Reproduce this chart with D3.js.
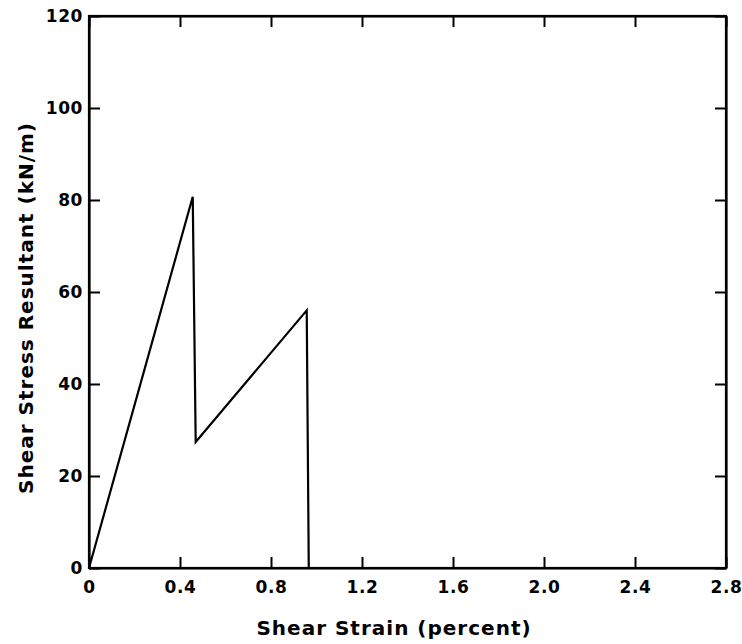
<!DOCTYPE html>
<html>
<head>
<meta charset="utf-8">
<script src="https://cdn.jsdelivr.net/npm/d3@7"></script>
<style>
  body { margin: 0; background: #fff; }
  text { font-family: "DejaVu Sans", sans-serif; font-weight: bold; fill: #000; }
</style>
</head>
<body>
<div id="chart"></div>
<script>
// data
var strain = [0, 0.456, 0.469, 0.957, 0.966];
var stress = [0, 80.7, 27.4, 56.0, 0];

var xTicks = [0, 0.4, 0.8, 1.2, 1.6, 2.0, 2.4, 2.8];
var yTicks = [0, 20, 40, 60, 80, 100, 120];

var svgWidth = 742;
var svgHeight = 644;

var margin = { top: 16, right: 16, bottom: 76, left: 89 };

var width = svgWidth - margin.left - margin.right;
var height = svgHeight - margin.top - margin.bottom;

var svg = d3.select("#chart")
  .append("svg")
  .attr("width", svgWidth)
  .attr("height", svgHeight);

var chartGroup = svg.append("g")
  .attr("transform", `translate(${margin.left}, ${margin.top})`);

var x = d3.scaleLinear().domain([0, 2.8]).range([0, width]);
var y = d3.scaleLinear().domain([0, 120]).range([height, 0]);

var tickLen = 11;

// axes, ticks pointing inward on all four sides
var bottomAxis = d3.axisBottom(x).tickValues(xTicks).tickSize(-tickLen).tickSizeOuter(0)
  .tickPadding(13)
  .tickFormat(d => d === 0 ? "0" : d3.format(".1f")(d));
var leftAxis = d3.axisLeft(y).tickValues(yTicks).tickSize(-tickLen).tickSizeOuter(0)
  .tickPadding(6).tickFormat(d3.format("d"));
var topAxis = d3.axisTop(x).tickValues(xTicks).tickSize(-tickLen).tickSizeOuter(0).tickFormat("");
var rightAxis = d3.axisRight(y).tickValues(yTicks).tickSize(-tickLen).tickSizeOuter(0).tickFormat("");

var gb = chartGroup.append("g").attr("transform", `translate(0,${height})`).call(bottomAxis);
var gl = chartGroup.append("g").call(leftAxis);
var gt = chartGroup.append("g").call(topAxis);
var gr = chartGroup.append("g").attr("transform", `translate(${width},0)`).call(rightAxis);

[gb, gl, gt, gr].forEach(g => {
  g.selectAll("path").attr("stroke", "#000").attr("stroke-width", 2.2);
  g.selectAll("line").attr("stroke", "#000").attr("stroke-width", 2);
  g.selectAll("text")
    .style("font-family", "'DejaVu Sans', sans-serif")
    .style("font-weight", "bold")
    .style("font-size", "17px")
    .style("letter-spacing", "0.6px")
    .attr("fill", "#000");
});

// frame
chartGroup.append("rect")
  .attr("width", width).attr("height", height)
  .attr("fill", "none").attr("stroke", "#000").attr("stroke-width", 2.2);

// the curve
var pts = strain.map((d, i) => [d, stress[i]]);
var line = d3.line().x(d => x(d[0])).y(d => y(d[1]));

chartGroup.append("path")
  .datum(pts)
  .attr("d", line)
  .attr("fill", "none")
  .attr("stroke", "#000")
  .attr("stroke-width", 2.2)
  .attr("stroke-linejoin", "miter");

// axis labels
svg.append("text")
  .attr("x", 394)
  .attr("y", 635)
  .attr("text-anchor", "middle")
  .style("font-size", "20px")
  .style("letter-spacing", "1px")
  .text("Shear Strain (percent)");

svg.append("text")
  .attr("transform", `translate(33, 308)rotate(-90)`)
  .attr("text-anchor", "middle")
  .style("font-size", "20px")
  .style("letter-spacing", "1px")
  .text("Shear Stress Resultant (kN/m)");
</script>
</body>
</html>
